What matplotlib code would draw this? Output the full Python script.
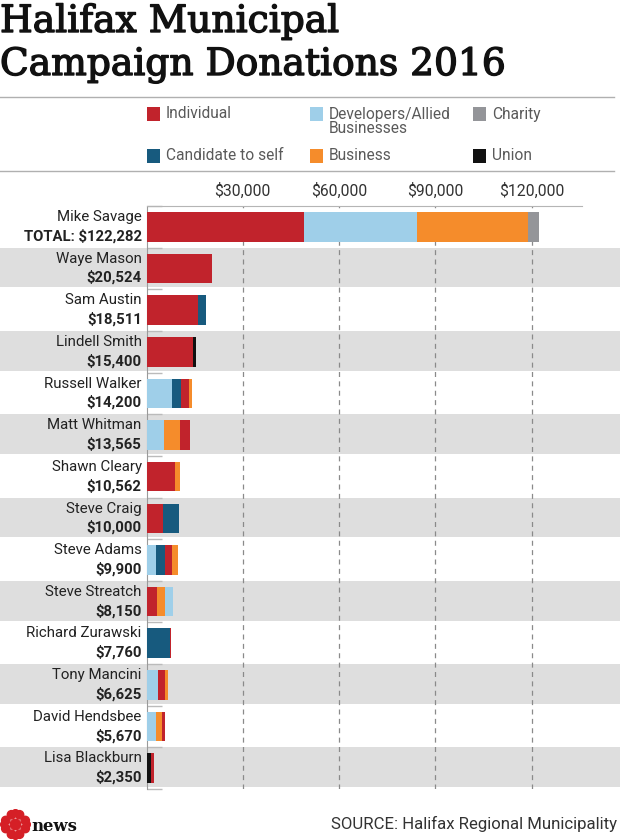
import numpy as np
import matplotlib
matplotlib.use('Agg')
import matplotlib.pyplot as plt
import matplotlib.patheffects as pe
from matplotlib.patches import Rectangle, Circle
from matplotlib.transforms import blended_transform_factory

# data
names = ['Mike Savage', 'Waye Mason', 'Sam Austin', 'Lindell Smith', 'Russell Walker',
         'Matt Whitman', 'Shawn Cleary', 'Steve Craig', 'Steve Adams', 'Steve Streatch',
         'Richard Zurawski', 'Tony Mancini', 'David Hendsbee', 'Lisa Blackburn']
totals = [122282, 20524, 18511, 15400, 14200, 13565, 10562, 10000, 9900, 8150,
          7760, 6625, 5670, 2350]

individual = [49100, 20524, 16000, 14600, 2500, 3065, 8800, 5050, 2100, 3300, 360, 2300, 720, 850]
developers = [35100, 0, 0, 0, 7900, 5400, 0, 0, 3000, 2250, 0, 3500, 2950, 0]
charity = [3482, 0, 0, 0, 0, 0, 0, 0, 0, 0, 0, 0, 0, 0]
self_funded = [0, 0, 2511, 0, 2800, 0, 0, 4950, 2900, 0, 7400, 0, 0, 0]
business = [34600, 0, 0, 0, 1000, 5100, 1762, 0, 1900, 2600, 0, 825, 2000, 0]
union = [0, 0, 0, 800, 0, 0, 0, 0, 0, 0, 0, 0, 0, 1500]

categories = ['Individual', 'Developers/Allied\nBusinesses', 'Charity',
              'Candidate to self', 'Business', 'Union']
colors = ['#c1232c', '#9fcfe9', '#949599', '#175a7e', '#f58c2b', '#111111']
series = [individual, developers, charity, self_funded, business, union]

ticks = [30000, 60000, 90000, 120000]
tick_labels = ['$30,000', '$60,000', '$90,000', '$120,000']

W, H = 620, 840
fig = plt.figure(figsize=(W / 100, H / 100), dpi=100)
fig.patch.set_facecolor('white')

def fx(px):
    return px / W

def fy(py):
    return 1 - py / H

# title, sized to the width of the second line
heavy = [pe.withStroke(linewidth=1.0, foreground='#111111')]
t1 = fig.text(fx(0), fy(32), 'Halifax Municipal', family='DejaVu Serif',
              fontsize=30, color='#111111', va='baseline', ha='left', path_effects=heavy)
t2 = fig.text(fx(0), fy(75), 'Campaign Donations 2016', family='DejaVu Serif',
              fontsize=30, color='#111111', va='baseline', ha='left', path_effects=heavy)
fig.canvas.draw()
w = t2.get_window_extent().width
for t in (t1, t2):
    t.set_fontsize(30 * 506 / w)

# rules round the legend
for py in (97, 171):
    fig.add_artist(plt.Line2D([fx(0), fx(614)], [fy(py), fy(py)], color='#b0b0b0', lw=1))

# legend
leg_x = [147, 310, 473]
leg_y = [114, 156]
for i, (cat, col) in enumerate(zip(categories, colors)):
    x0 = leg_x[i % 3]
    y0 = leg_y[i // 3]
    fig.add_artist(Rectangle((fx(x0), fy(y0 + 7)), 13 / W, 14 / H, facecolor=col,
                             edgecolor='none', transform=fig.transFigure))
    fig.text(fx(x0 + 19), fy(y0 - 7.5), cat, family='Roboto', fontsize=11.2,
             color='#5a5a5a', va='top', ha='left', linespacing=0.92)

# main axes
ax = fig.add_axes([fx(146.5), fy(789), (582 - 146.5) / W, (789 - 206) / H])
n = len(names)
ax.set_xlim(0, 135700)
ax.set_ylim(n - 0.5, -0.5)
ax.set_facecolor('none')

# alternating grey bands across the whole width
trans = blended_transform_factory(fig.transFigure, ax.transData)
for i in range(1, n, 2):
    ax.add_patch(Rectangle((0, i - 0.5), 1, 0.955, facecolor='#dedede', edgecolor='none',
                           transform=trans, clip_on=False, zorder=0))

# stacked bars, biggest piece first
for i in range(n):
    parts = sorted([(s[i], c) for s, c in zip(series, colors) if s[i] > 0],
                   key=lambda p: -p[0])
    left = 0
    for val, col in parts:
        ax.barh(i, val, left=left, height=0.71, color=col, edgecolor='none', zorder=3)
        left += val

for xt in ticks:
    ax.axvline(xt, color='#8a8a8a', lw=0.9, ls=(0, (4, 3.5)), zorder=2)

ax.xaxis.tick_top()
ax.set_xticks(ticks)
ax.set_xticklabels(tick_labels, family='Roboto', fontsize=11.3, color='#333333')
ax.tick_params(axis='x', length=0, pad=5)
ax.set_yticks([])
ax.set_yticks(np.arange(n + 1) - 0.5, minor=True)
ax.tick_params(axis='y', which='minor', direction='in', length=11, width=1, color='#bbbbbb')

for side in ('right', 'bottom'):
    ax.spines[side].set_visible(False)
ax.spines['left'].set_color('#9a9a9a')
ax.spines['top'].set_color('#b5b5b5')

# candidate labels
lab_trans = blended_transform_factory(ax.transAxes, ax.transData)
for i, (name, tot) in enumerate(zip(names, totals)):
    val = '${:,}'.format(tot)
    if i == 0:
        val = 'TOTAL: ' + val
    ax.text(-0.011, i - 0.235, name, transform=lab_trans,
            family='Roboto', fontsize=10.8, color='#222222', ha='right', va='center')
    ax.text(-0.011, i + 0.225, val, transform=lab_trans,
            family='Roboto', fontweight='bold', fontsize=10.7, color='#222222',
            ha='right', va='center')

# footer
fig.text(fx(617), fy(824), 'SOURCE: Halifax Regional Municipality', family='Roboto',
         fontsize=12.1, color='#333333', ha='right', va='center')

logo = fig.add_axes([fx(0), fy(840), 31 / W, 31 / H])
logo.set_xlim(-1, 1)
logo.set_ylim(-1, 1)
logo.set_aspect('equal')
logo.axis('off')
red = '#d51f26'
logo.add_patch(Circle((0, 0), 0.34, color=red))
for k in range(8):
    a = np.pi / 8 + k * np.pi / 4
    logo.add_patch(Circle((0.68 * np.cos(a), 0.68 * np.sin(a)), 0.27, color=red))
for k in range(4):
    a = k * np.pi / 2
    logo.add_patch(Circle((0.74 * np.cos(a), 0.74 * np.sin(a)), 0.22, color=red))

tn = fig.text(fx(31), fy(831), 'news', family='DejaVu Serif', fontweight='bold',
              fontsize=15, color='#111111', ha='left', va='baseline')
fig.canvas.draw()
wn = tn.get_window_extent().width
tn.set_fontsize(15 * 46 / wn)

fig.savefig('out.png', dpi=100, facecolor='white')
